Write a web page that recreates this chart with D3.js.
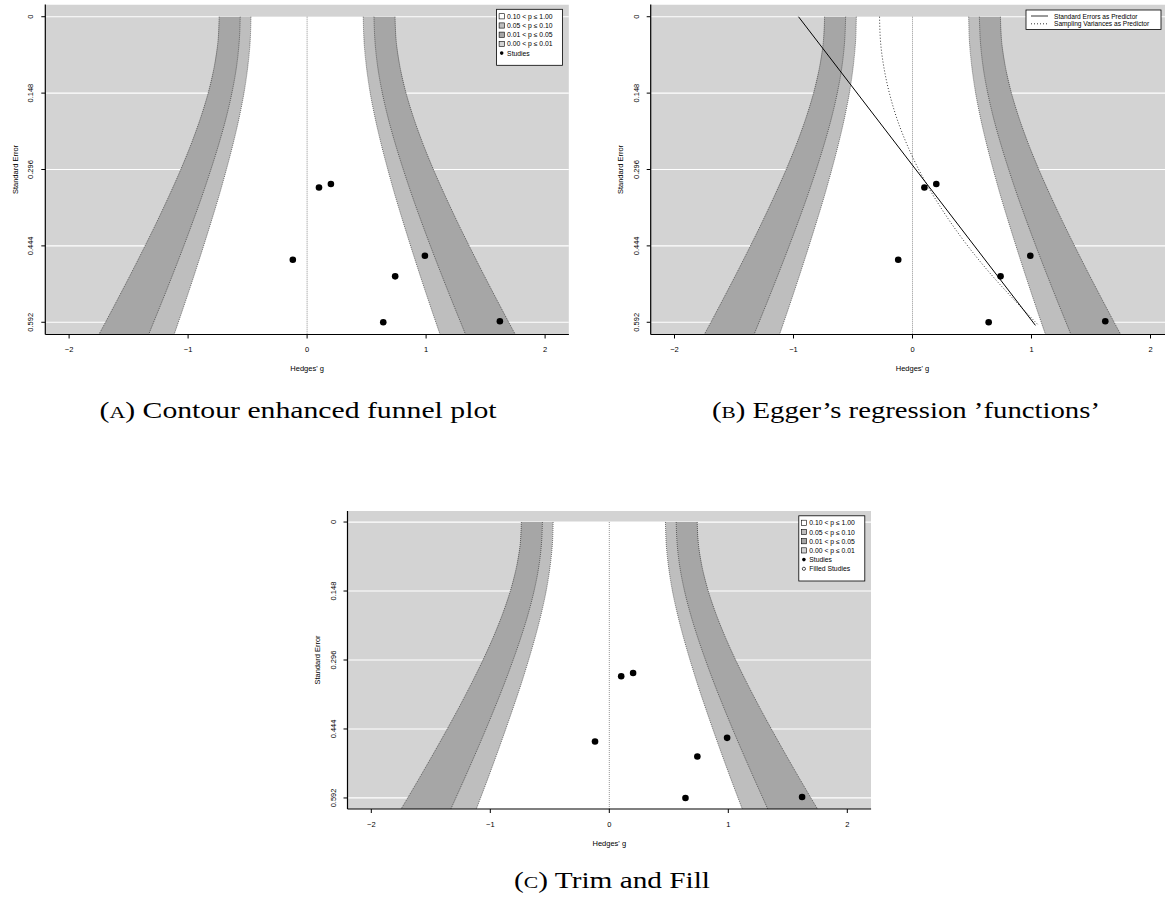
<!DOCTYPE html>
<html>
<head>
<meta charset="utf-8">
<script src="https://cdn.jsdelivr.net/npm/d3@7"></script>
<style>
  body { margin: 0; background: #fff; }
  svg { display: block; }
  .tick-label, .axis-title, .legend-text { font-family: "Liberation Sans", Arial, sans-serif; fill: #000; }
  .caption { font-family: "Liberation Serif", "DejaVu Serif", serif; fill: #000; }
</style>
</head>
<body>
<svg id="chart" width="1165" height="906"></svg>
<script>
// axis ticks
const xTicks = [-2, -1, 0, 1, 2];
const seTicks = [0, 0.148, 0.296, 0.444, 0.592];

// studies (Hedges' g, standard error)
const studyG  = [0.10, 0.20, -0.12, 0.99, 0.74, 0.64, 1.62];
const studySE = [0.331, 0.324, 0.471, 0.463, 0.503, 0.592, 0.590];

// contour boundaries: half width of the funnel at each standard error
const contourSE = [0, 0.05, 0.1, 0.15, 0.2, 0.25, 0.3, 0.35, 0.4, 0.45, 0.5, 0.55, 0.6, 0.62];
const bound10 = [0.472, 0.479, 0.500, 0.532, 0.575, 0.626, 0.683, 0.744, 0.810, 0.878, 0.948, 1.020, 1.094, 1.124];
const bound05 = [0.562, 0.571, 0.595, 0.634, 0.685, 0.746, 0.814, 0.887, 0.965, 1.046, 1.130, 1.216, 1.304, 1.339];
const bound01 = [0.739, 0.750, 0.783, 0.834, 0.901, 0.980, 1.069, 1.166, 1.268, 1.375, 1.485, 1.598, 1.713, 1.760];

// Egger's regression lines (panel B)
const eggerSE_se = [0, 0.598];
const eggerSE_g  = [-0.958, 1.033];
const eggerVar_se = [0, 0.05, 0.1, 0.15, 0.2, 0.25, 0.3, 0.35, 0.4, 0.45, 0.5, 0.55, 0.598];
const eggerVar_g  = [-0.277, -0.268, -0.239, -0.192, -0.127, -0.042, 0.061, 0.184, 0.325, 0.484, 0.663, 0.860, 1.060];

// legend texts
const levelLabels = ["0.10 < p \u2264 1.00", "0.05 < p \u2264 0.10", "0.01 < p \u2264 0.05", "0.00 < p \u2264 0.01"];
const eggerLabels = ["Standard Errors as Predictor", "Sampling Variances as Predictor"];
const captions = [["A", " Contour enhanced funnel plot"], ["B", " Egger\u2019s regression \u2019functions\u2019"], ["C", " Trim and Fill"]];

const levelFill = ["#ffffff", "#bebebe", "#a6a6a6", "#d3d3d3"];
const back = "#d3d3d3";

const svg = d3.select("#chart");

const panels = [
    { key: "A", left: 45.3, top: 4.5, bottom: 334.5, legend: "levels", cap: { x: 298, y: 418, w: 397 } },
    { key: "B", left: 650.7, top: 4.5, bottom: 334.5, legend: "egger", cap: { x: 906, y: 418, w: 388 } },
    { key: "C", left: 347.5, top: 511, bottom: 809, legend: "trim", cap: { x: 612, y: 888, w: 196 } }
];

function drawPanel(p, idx) {
    const pxPerUnit = 119;
    const x = d3.scaleLinear().domain([-2.2, 2.2]).range([p.left, p.left + 4.4 * pxPerUnit]);
    const y = d3.scaleLinear().domain([-0.0237, 0.6157]).range([p.top, p.bottom]);
    const right = x(2.2);

    const g = svg.append("g");
    const clipId = "clip" + p.key;
    g.append("clipPath").attr("id", clipId)
        .append("rect").attr("x", p.left).attr("y", p.top)
        .attr("width", right - p.left).attr("height", p.bottom - p.top);

    const plot = g.append("g").attr("clip-path", `url(#${clipId})`);

    plot.append("rect")
        .attr("x", p.left).attr("y", p.top)
        .attr("width", right - p.left).attr("height", p.bottom - p.top)
        .attr("fill", back);

    plot.selectAll(".hline").data(seTicks).enter().append("line")
        .attr("x1", p.left).attr("x2", right)
        .attr("y1", d => y(d)).attr("y2", d => y(d))
        .attr("stroke", "#fff").attr("stroke-width", 1.2);

    // contour polygons, outer first
    const bands = [[bound01, levelFill[2]], [bound05, levelFill[1]], [bound10, levelFill[0]]];
    bands.forEach(([b, fill]) => {
        const pts = contourSE.map((s, i) => [x(-b[i]), y(s)])
            .concat(contourSE.map((s, i) => [x(b[i]), y(s)]).reverse());
        plot.append("path")
            .attr("d", d3.line().curve(d3.curveLinear)(pts) + "Z")
            .attr("fill", fill);
    });
    const edge = d3.line().curve(d3.curveMonotoneY);
    [bound01, bound05, bound10].forEach(b => {
        [-1, 1].forEach(sign => {
            plot.append("path")
                .attr("d", edge(contourSE.map((s, i) => [x(sign * b[i]), y(s)])))
                .attr("fill", "none")
                .attr("stroke", "#222").attr("stroke-width", 0.6)
                .attr("stroke-dasharray", "1,1");
        });
    });

    // reference line
    plot.append("line")
        .attr("x1", x(0)).attr("x2", x(0))
        .attr("y1", y(0)).attr("y2", p.bottom)
        .attr("stroke", "#777").attr("stroke-width", 0.8)
        .attr("stroke-dasharray", "1,1");

    if (p.legend === "egger") {
        plot.append("path")
            .attr("d", d3.line()(eggerSE_se.map((s, i) => [x(eggerSE_g[i]), y(s)])))
            .attr("stroke", "#000").attr("stroke-width", 1).attr("fill", "none");
        plot.append("path")
            .attr("d", d3.line().curve(d3.curveMonotoneY)(eggerVar_se.map((s, i) => [x(eggerVar_g[i]), y(s)])))
            .attr("stroke", "#000").attr("stroke-width", 0.8).attr("fill", "none")
            .attr("stroke-dasharray", "1,2");
    }

    plot.selectAll(".pt").data(studyG).enter().append("circle")
        .attr("cx", d => x(d)).attr("cy", (d, i) => y(studySE[i]))
        .attr("r", 3.3).attr("fill", "#000");

    // axes
    g.append("line").attr("x1", p.left).attr("x2", right)
        .attr("y1", p.bottom).attr("y2", p.bottom).attr("stroke", "#000").attr("stroke-width", 1.2);
    g.append("line").attr("x1", p.left).attr("x2", p.left)
        .attr("y1", p.top).attr("y2", p.bottom).attr("stroke", "#000").attr("stroke-width", 1.2);

    xTicks.forEach(t => {
        g.append("line").attr("x1", x(t)).attr("x2", x(t))
            .attr("y1", p.bottom).attr("y2", p.bottom + 4).attr("stroke", "#000");
        g.append("text").attr("class", "tick-label")
            .attr("x", x(t)).attr("y", p.bottom + 17.5)
            .attr("text-anchor", "middle").attr("font-size", 7.5)
            .text(t < 0 ? "\u2212" + Math.abs(t) : t);
    });
    seTicks.forEach(t => {
        g.append("line").attr("x1", p.left - 4).attr("x2", p.left)
            .attr("y1", y(t)).attr("y2", y(t)).attr("stroke", "#000");
        g.append("text").attr("class", "tick-label")
            .attr("transform", `translate(${p.left - 14.5},${y(t)}) rotate(-90)`)
            .attr("text-anchor", "middle").attr("dominant-baseline", "central")
            .attr("font-size", 7.5)
            .text(t);
    });
    g.append("text").attr("class", "axis-title")
        .attr("x", (p.left + right) / 2).attr("y", p.bottom + 36.5)
        .attr("text-anchor", "middle").attr("font-size", 7.5)
        .text("Hedges' g");
    g.append("text").attr("class", "axis-title")
        .attr("transform", `translate(${p.left - 30},${(p.top + p.bottom) / 2}) rotate(-90)`)
        .attr("text-anchor", "middle").attr("dominant-baseline", "central")
        .attr("font-size", 7.5)
        .text("Standard Error");

    drawLegend(g, p, right);

    // caption
    const cap = svg.append("text").attr("class", "caption")
        .attr("x", p.cap.x).attr("y", p.cap.y)
        .attr("text-anchor", "middle").attr("font-size", 23)
        .attr("textLength", p.cap.w).attr("lengthAdjust", "spacingAndGlyphs");
    cap.append("tspan").text("(");
    cap.append("tspan").attr("font-size", 17).text(captions[idx][0]);
    cap.append("tspan").text(")" + captions[idx][1]);
}

function drawLegend(g, p, right) {
    const lg = g.append("g");
    if (p.legend === "egger") {
        const bx = 1026, by = p.top + 5.5, bw = 135, bh = 19.5;
        lg.append("rect").attr("x", bx).attr("y", by).attr("width", bw).attr("height", bh)
            .attr("fill", "#fff").attr("stroke", "#000").attr("stroke-width", 0.8);
        eggerLabels.forEach((t, i) => {
            const ry = by + 6 + i * 7.8;
            lg.append("line").attr("x1", bx + 5).attr("x2", bx + 22).attr("y1", ry).attr("y2", ry)
                .attr("stroke", "#000").attr("stroke-width", 0.8)
                .attr("stroke-dasharray", i === 0 ? null : "1,2");
            lg.append("text").attr("class", "legend-text")
                .attr("x", bx + 28).attr("y", ry).attr("dominant-baseline", "central")
                .attr("font-size", 6.6).text(t);
        });
        return;
    }
    const rows = levelLabels.map((t, i) => ({ t, kind: "sq", fill: levelFill[i] }));
    rows.push({ t: "Studies", kind: "dot" });
    if (p.legend === "trim") rows.push({ t: "Filled Studies", kind: "open" });
    const step = 9.2;
    const bw = 66, bh = 10 + rows.length * step;
    const bx = right - 6.3 - bw, by = p.top + 4.8;
    lg.append("rect").attr("x", bx).attr("y", by).attr("width", bw).attr("height", bh)
        .attr("fill", "#fff").attr("stroke", "#000").attr("stroke-width", 0.8);
    rows.forEach((r, i) => {
        const ry = by + 7 + i * step;
        if (r.kind === "sq") {
            lg.append("rect").attr("x", bx + 2.5).attr("y", ry - 2.6).attr("width", 5.2).attr("height", 5.2)
                .attr("fill", r.fill).attr("stroke", "#000").attr("stroke-width", 0.6);
        } else if (r.kind === "dot") {
            lg.append("circle").attr("cx", bx + 5.1).attr("cy", ry).attr("r", 1.8).attr("fill", "#000");
        } else {
            lg.append("circle").attr("cx", bx + 5.1).attr("cy", ry).attr("r", 1.6)
                .attr("fill", "#fff").attr("stroke", "#000").attr("stroke-width", 0.7);
        }
        lg.append("text").attr("class", "legend-text")
            .attr("x", bx + 10.5).attr("y", ry).attr("dominant-baseline", "central")
            .attr("font-size", 6.8).text(r.t);
    });
}

panels.forEach(drawPanel);
</script>
</body>
</html>
